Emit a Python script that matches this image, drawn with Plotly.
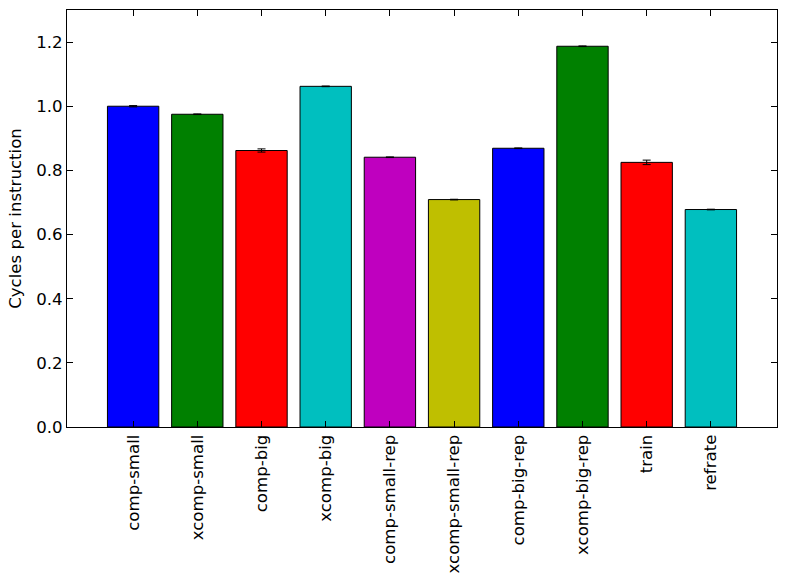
import plotly.graph_objects as go

categories = ["comp-small", "xcomp-small", "comp-big", "xcomp-big", "comp-small-rep",
              "xcomp-small-rep", "comp-big-rep", "xcomp-big-rep", "train", "refrate"]
cpi = [1.000, 0.975, 0.862, 1.062, 0.841, 0.709, 0.869, 1.187, 0.825, 0.678]
cpi_err = [0.002, 0.001, 0.005, 0.001, 0.001, 0.001, 0.001, 0.001, 0.007, 0.001]
colors = ["#0000ff", "#008000", "#ff0000", "#00bfbf", "#bf00bf",
          "#bfbf00", "#0000ff", "#008000", "#ff0000", "#00bfbf"]
yticks = [0.0, 0.2, 0.4, 0.6, 0.8, 1.0, 1.2]

x = list(range(len(categories)))

fig = go.Figure()
fig.add_trace(go.Bar(
    x=x, y=cpi, width=0.8,
    marker=dict(color=colors, line=dict(color="black", width=1)),
    error_y=dict(type="data", array=cpi_err, visible=True, color="black", thickness=1, width=4),
    showlegend=False,
))

font = dict(family="DejaVu Sans", size=16.6, color="black")
fig.update_layout(
    width=785, height=582,
    margin=dict(l=67, r=8, t=10, b=155),
    paper_bgcolor="white", plot_bgcolor="white",
    font=font,
    xaxis=dict(
        range=[-1.03, 10.03], tickmode="array", tickvals=x, ticktext=categories,
        tickangle=-90, ticks="inside", ticklen=6, tickcolor="black", mirror="allticks",
        showline=True, linecolor="black", linewidth=1, showgrid=False, zeroline=False,
        tickfont=font,
    ),
    yaxis=dict(
        range=[0, 1.3], tickmode="array", tickvals=yticks,
        ticktext=[f"{v:.1f}" for v in yticks],
        ticks="inside", ticklen=6, tickcolor="black", mirror="allticks",
        showline=True, linecolor="black", linewidth=1, showgrid=False, zeroline=False,
        title=dict(text="Cycles per instruction", font=font, standoff=10),
        tickfont=font,
    ),
)

fig.write_html("out.html")
